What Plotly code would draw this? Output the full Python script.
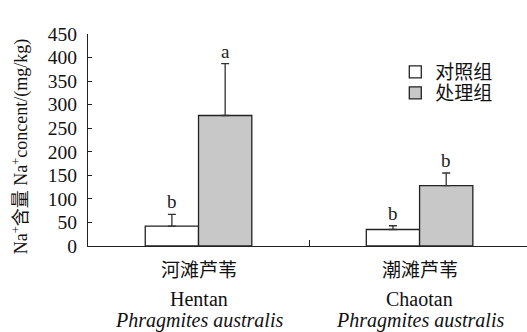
import plotly.graph_objects as go

# Sodium content of reed from two habitats, control vs. treatment
sites = ["河滩芦苇", "潮滩芦苇"]
sites_en = ["Hentan", "Chaotan"]
species = "Phragmites australis"
groups = ["对照组", "处理组"]
control_mean = [42, 35]
control_err = [25, 8]
treat_mean = [277, 128]
treat_err = [110, 27]
control_sig = ["b", "b"]
treat_sig = ["a", "b"]
y_ticks = [0, 50, 100, 150, 200, 250, 300, 350, 400, 450]

serif = "Liberation Serif, Times New Roman, serif"
mixed = "Liberation Serif, Noto Sans CJK SC, serif"

fig = go.Figure()
fig.add_trace(go.Bar(
    x=sites, y=control_mean, name=groups[0], legend="legend",
    marker=dict(color="white", line=dict(color="#222", width=1.3)),
    error_y=dict(type="data", array=control_err, symmetric=False,
                 arrayminus=[0, 0], color="#333", thickness=1.3, width=4),
    offsetgroup="c",
))
fig.add_trace(go.Bar(
    x=sites, y=treat_mean, name=groups[1], legend="legend2",
    marker=dict(color="#c8c8c8", line=dict(color="#222", width=1.3)),
    error_y=dict(type="data", array=treat_err, symmetric=False,
                 arrayminus=[0, 0], color="#333", thickness=1.3, width=4),
    offsetgroup="t",
))

# significance letters above error bars
offset = 0.12
for i, s in enumerate(sites):
    fig.add_annotation(x=i - offset, y=control_mean[i] + control_err[i],
                       text=control_sig[i], showarrow=False, yanchor="bottom",
                       font=dict(family=serif, size=19, color="#222"))
    fig.add_annotation(x=i + offset, y=treat_mean[i] + treat_err[i],
                       text=treat_sig[i], showarrow=False, yanchor="bottom",
                       font=dict(family=serif, size=19, color="#222"))

# category labels (three lines)
for i, s in enumerate(sites):
    fig.add_annotation(x=i, y=-24 / 212, yref="paper", yanchor="middle", text=s,
                       showarrow=False, font=dict(family=mixed, size=19, color="#111"))
    fig.add_annotation(x=i, y=-53 / 212, yref="paper", yanchor="middle",
                       text=sites_en[i], showarrow=False,
                       font=dict(family=serif, size=20, color="#111"))
    fig.add_annotation(x=i, y=-74 / 212, yref="paper", yanchor="middle",
                       text="<i>" + species + "</i>", showarrow=False,
                       font=dict(family=serif, size=20, color="#111"))

# y-axis title
fig.add_annotation(x=-(88 - 21) / 439, xref="paper", xanchor="center",
                   y=0.47, yref="paper", yanchor="middle",
                   text="Na<sup>+</sup>含量 Na<sup>+</sup>concent/(mg/kg)",
                   textangle=-90, showarrow=False,
                   font=dict(family=mixed, size=18, color="#111"))

legend_style = dict(xanchor="left", yanchor="middle",
                    font=dict(family=mixed, size=19, color="#111"),
                    bgcolor="rgba(0,0,0,0)", itemwidth=30)

fig.update_layout(
    width=527, height=332,
    margin=dict(l=88, r=0, t=34, b=86),
    paper_bgcolor="white", plot_bgcolor="white",
    barmode="group", bargap=0.518, bargroupgap=0,
    showlegend=True,
    legend=dict(x=0.70, y=(246 - 72) / 212, **legend_style),
    legend2=dict(x=0.70, y=(246 - 93) / 212, **legend_style),
    xaxis=dict(type="category", range=[-0.5, 1.486], showline=True,
               linecolor="#222", linewidth=1.3, ticks="inside", ticklen=6,
               tickcolor="#222", tickson="boundaries", showticklabels=False,
               showgrid=False, zeroline=False),
    yaxis=dict(range=[0, 450], tickvals=y_ticks, showline=True,
               linecolor="#222", linewidth=1.3, ticks="inside", ticklen=4,
               tickcolor="#222", showgrid=False, zeroline=False,
               ticklabelstandoff=6,
               tickfont=dict(family=serif, size=19.5, color="#111")),
)

fig.write_html("out.html")
